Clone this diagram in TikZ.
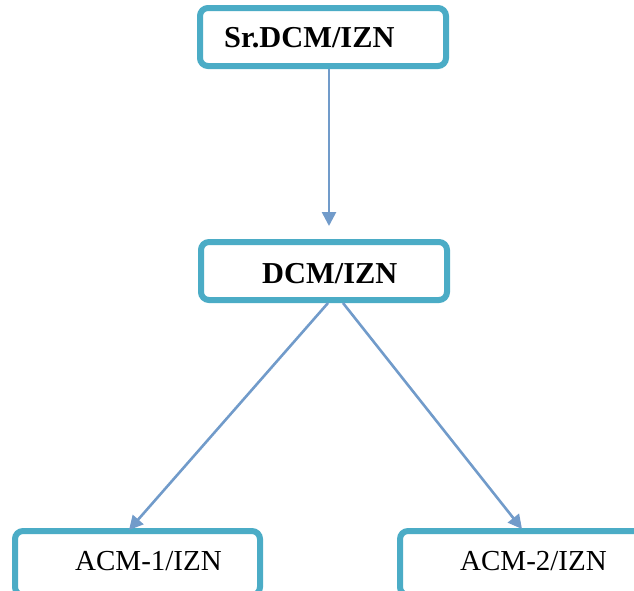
\documentclass[tikz,border=0pt]{standalone}
\usepackage{fontspec}
\setmainfont{Liberation Serif}
\usetikzlibrary{arrows.meta}
\definecolor{boxc}{RGB}{75,172,198}
\definecolor{arrc}{RGB}{113,155,202}
\tikzset{
  box/.style={draw=boxc, line width=6pt, rounded corners=8pt, fill=white, inner sep=0pt},
  lbl/.style={anchor=base west, inner sep=0pt, font=\fontsize{29}{32}\selectfont},
  blbl/.style={lbl, font=\fontsize{30.4}{33}\selectfont\bfseries},
  arr/.style={draw=arrc, line width=2.6pt, -{Triangle[length=14pt,width=14pt]}}
}
\begin{document}
\begin{tikzpicture}[x=1pt,y=-1pt]
\useasboundingbox (0,0) rectangle (634,590);
\clip (0,0) rectangle (634,590);
\node[box, minimum width=246pt, minimum height=58pt] (top) at (323,37) {};
\node[box, minimum width=246pt, minimum height=58pt] (mid) at (324,271) {};
\node[box, minimum width=245pt, minimum height=64pt] (bl) at (137.5,563) {};
\node[box, minimum width=246pt, minimum height=64pt] (br) at (523,563) {};
\node[blbl] (ttop) at (224,47) {Sr.DCM/IZN};
\node[blbl] (tmid) at (262,283) {DCM/IZN};
\node[lbl] (tbl) at (75,570) {ACM-1/IZN};
\node[lbl] (tbr) at (460,570) {ACM-2/IZN};
\coordinate (a1) at (329,226);
\coordinate (s2) at (328,303);
\coordinate (s3) at (343,303);
\coordinate (e2) at (129,530);
\coordinate (e3) at (522,529);
\draw[arr] (top.south -| a1) -- (a1);
\draw[arr] (s2) -- (e2);
\draw[arr] (s3) -- (e3);
\end{tikzpicture}
\end{document}
